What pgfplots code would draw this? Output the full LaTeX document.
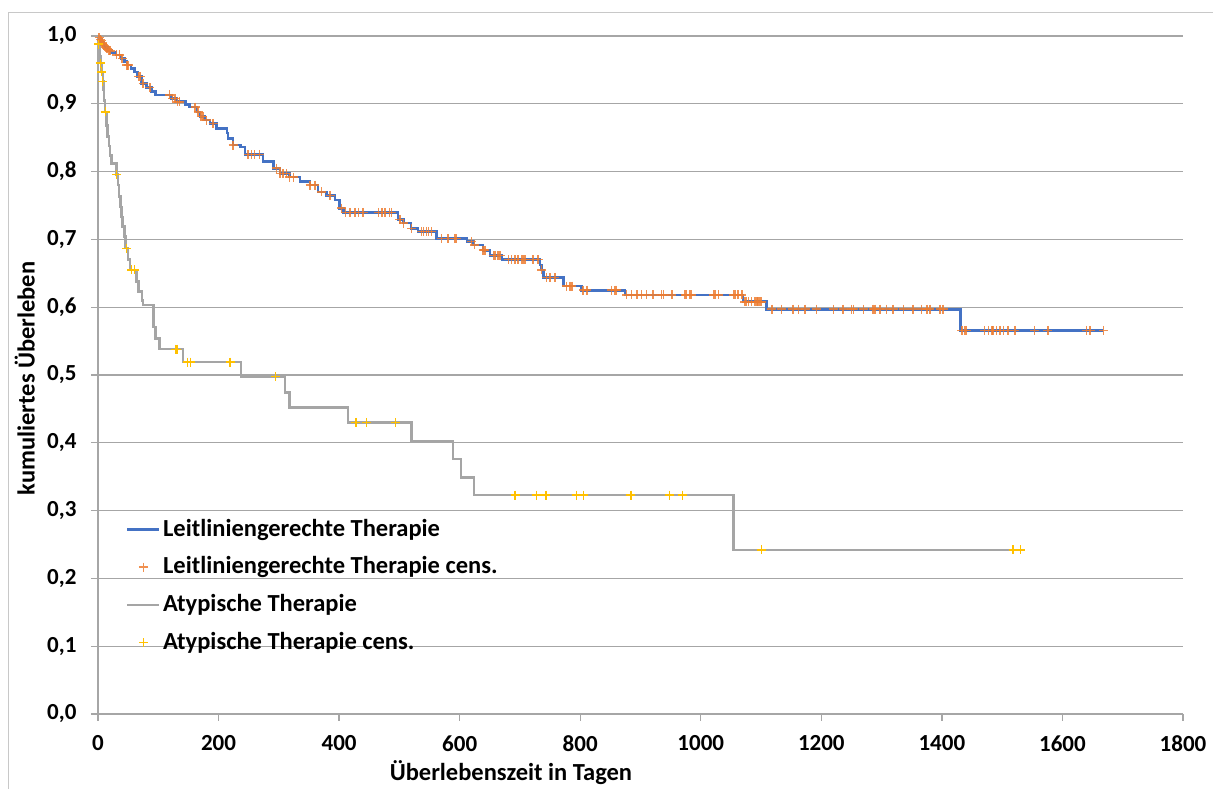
\documentclass[border=0pt]{standalone}
\usepackage{fontspec}
\setmainfont{Carlito}
\usepackage{pgfplots}
\pgfplotsset{compat=1.18}

\definecolor{kmblue}{RGB}{68,114,196}
\definecolor{kmorange}{RGB}{237,125,49}
\definecolor{kmgray}{RGB}{165,165,165}
\definecolor{kmyellow}{RGB}{255,192,0}
\definecolor{gridgray}{RGB}{166,166,166}
\definecolor{framegray}{RGB}{200,200,200}

\newcommand{\tickfont}{\bfseries\fontsize{23}{27}\selectfont}
\newcommand{\lblfont}{\bfseries\fontsize{24.5}{29}\selectfont}

\pgfplotsset{
  kmline legend/.style={legend image code/.code={\draw[##1] (0pt,0.7pt) -- (32pt,0.7pt);}},
  kmmark legend/.style={legend image code/.code={\path[draw=none,fill=none] (0pt,-5pt) rectangle (32pt,5pt);
    \draw[##1] plot coordinates {(16pt,0.7pt)};}},
}

\begin{document}
\begin{tikzpicture}[x=1pt,y=1pt]
\useasboundingbox (0,0) rectangle (1213,788);
\draw[framegray, line width=1pt] (8,-20) rectangle (1240,775);
\begin{axis}[
  at={(98pt,74pt)}, anchor=south west,
  scale only axis, width=1085pt, height=678pt,
  xmin=0, xmax=1800, ymin=0, ymax=1,
  axis x line*=bottom, axis y line*=left,
  axis line style={draw=gridgray, line width=1.3pt},
  xtick={0,200,400,600,800,1000,1200,1400,1600,1800},
  xticklabels={0,200,400,600,800,1000,1200,1400,1600,1800},
  ytick={0,0.1,0.2,0.3,0.4,0.5,0.6,0.7,0.8,0.9,1.0},
  yticklabels={{0,0},{0,1},{0,2},{0,3},{0,4},{0,5},{0,6},{0,7},{0,8},{0,9},{1,0}},
  ymajorgrids,
  major grid style={draw=gridgray, line width=1.3pt},
  tick align=outside, major tick length=7pt,
  tick style={draw=gridgray, line width=1.3pt},
  ticklabel style={font=\tickfont},
  xticklabel style={yshift=-11pt},
  yticklabel style={xshift=-11pt},
  xlabel={Überlebenszeit in Tagen},
  ylabel={kumuliertes Überleben},
  label style={font=\lblfont},
  xlabel style={at={(axis description cs:0.3806,-0.087)}, anchor=center},
  ylabel style={at={(axis description cs:-0.0675,0.495)}, anchor=center},
  legend cell align=left,
  legend style={draw=none, fill=none, inner sep=0pt, outer sep=0pt,
    at={(0.0258,0.2876)}, anchor=north west,
    font=\lblfont, row sep=15.8pt,
    nodes={inner sep=0pt, text height=17pt, text depth=5pt},
    /tikz/every odd column/.append style={column sep=2.5pt}},
  clip=false,
]

% guideline-conforming therapy: survival curve
\addplot[kmblue, line width=2.6pt, const plot, kmline legend]
table {
x y
0 1.000
3 0.995
6 0.990
9 0.986
12 0.983
16 0.979
22 0.976
30 0.972
38 0.967
44 0.962
48 0.957
55 0.952
61 0.947
66 0.940
72 0.930
80 0.924
89 0.918
95 0.913
122 0.908
130 0.903
145 0.899
152 0.895
164 0.888
169 0.881
177 0.876
186 0.871
197 0.864
214 0.857
216 0.849
224 0.839
236 0.836
244 0.825
274 0.815
291 0.805
302 0.797
318 0.792
335 0.785
352 0.780
365 0.770
379 0.765
393 0.758
401 0.746
407 0.740
498 0.729
507 0.724
519 0.716
531 0.712
562 0.701
612 0.697
623 0.692
639 0.684
650 0.676
670 0.670
733 0.662
736 0.655
739 0.644
772 0.631
802 0.625
874 0.618
1070 0.608
1109 0.597
1431 0.566
1668 0.566
};
\addlegendentry{Leitliniengerechte Therapie}

% guideline-conforming therapy: censored cases
\addplot[only marks, mark=+, mark size=4.5pt,
  mark options={draw=kmorange, line width=1.5pt, opacity=0.85},
  kmmark legend]
table {
x y
2 0.998
4 0.995
5 0.993
7 0.990
8 0.988
10 0.986
13 0.983
15 0.981
18 0.979
20 0.978
31 0.972
36 0.972
40 0.967
48 0.957
50 0.957
67 0.940
70 0.940
75 0.930
86 0.924
119 0.913
124 0.908
128 0.908
132 0.903
135 0.903
161 0.895
166 0.888
171 0.881
174 0.881
180 0.876
191 0.871
224 0.839
249 0.825
255 0.825
260 0.825
268 0.825
296 0.805
302 0.797
307 0.797
313 0.797
318 0.792
324 0.792
352 0.780
360 0.780
371 0.770
385 0.765
404 0.746
411 0.740
418 0.740
426 0.740
432 0.740
440 0.740
465 0.740
471 0.740
476 0.740
484 0.740
487 0.740
501 0.729
507 0.724
520 0.716
537 0.712
540 0.712
545 0.712
548 0.712
553 0.712
570 0.701
581 0.701
592 0.701
595 0.701
620 0.697
625 0.692
639 0.684
642 0.684
656 0.676
659 0.676
664 0.676
667 0.676
681 0.670
686 0.670
692 0.670
697 0.670
703 0.670
706 0.670
708 0.670
722 0.670
730 0.670
736 0.655
744 0.644
750 0.644
758 0.644
777 0.631
783 0.631
786 0.631
805 0.625
811 0.625
852 0.625
858 0.625
860 0.625
877 0.618
885 0.618
894 0.618
902 0.618
910 0.618
921 0.618
935 0.618
938 0.618
952 0.618
974 0.618
976 0.618
982 0.618
985 0.618
1021 0.618
1024 0.618
1029 0.618
1054 0.618
1057 0.618
1062 0.618
1068 0.618
1073 0.608
1076 0.608
1079 0.608
1084 0.608
1090 0.608
1093 0.608
1095 0.608
1098 0.608
1101 0.608
1118 0.597
1134 0.597
1153 0.597
1162 0.597
1173 0.597
1192 0.597
1220 0.597
1236 0.597
1250 0.597
1253 0.597
1270 0.597
1286 0.597
1289 0.597
1297 0.597
1308 0.597
1319 0.597
1336 0.597
1352 0.597
1366 0.597
1375 0.597
1380 0.597
1397 0.597
1402 0.597
1433 0.566
1438 0.566
1441 0.566
1471 0.566
1477 0.566
1483 0.566
1485 0.566
1491 0.566
1496 0.566
1502 0.566
1510 0.566
1521 0.566
1554 0.566
1576 0.566
1640 0.566
1646 0.566
1668 0.566
};
\addlegendentry{Leitliniengerechte Therapie cens.}

% atypical therapy: survival curve
\addplot[kmgray, line width=2.5pt, const plot, kmline legend]
table {
x y
0 1.000
1 0.988
3 0.970
4 0.960
6 0.947
8 0.933
9 0.920
10 0.905
12 0.888
14 0.868
16 0.852
18 0.838
20 0.824
22 0.812
31 0.796
33 0.780
35 0.763
37 0.748
39 0.733
41 0.719
44 0.704
46 0.687
50 0.670
53 0.655
64 0.638
67 0.623
73 0.610
75 0.603
92 0.571
95 0.554
102 0.538
141 0.519
237 0.4975
310 0.474
318 0.452
415 0.430
520 0.403
589 0.376
602 0.349
624 0.323
1054 0.242
1530 0.242
};
\addlegendentry{Atypische Therapie}

% atypical therapy: censored cases
\addplot[only marks, mark=+, mark size=4.5pt,
  mark options={draw=kmyellow, line width=1.3pt},
  kmmark legend]
table {
x y
1 0.988
4 0.960
6 0.947
8 0.933
12 0.888
31 0.796
47 0.687
56 0.655
61 0.655
128 0.538
131 0.538
148 0.519
153 0.519
219 0.519
295 0.4975
428 0.430
446 0.430
493 0.430
692 0.323
728 0.323
743 0.323
794 0.323
806 0.323
884 0.323
948 0.323
970 0.323
1101 0.242
1518 0.242
1530 0.242
};
\addlegendentry{Atypische Therapie cens.}

\end{axis}
\end{tikzpicture}
\end{document}
